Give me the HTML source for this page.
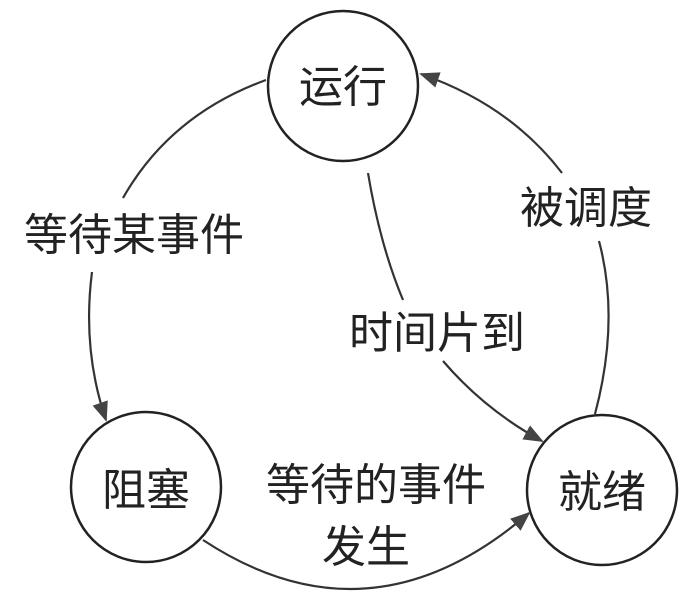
<!DOCTYPE html>
<html><head><meta charset="utf-8"><style>
html,body{margin:0;padding:0;background:#fff;}
svg{display:block;}
text{font-family:"Liberation Sans","Noto Sans CJK SC","WenQuanYi Zen Hei",sans-serif;font-size:44px;fill:#222;}
</style></head><body>
<svg width="687" height="594" viewBox="0 0 687 594" xmlns="http://www.w3.org/2000/svg">
<defs>
<marker id="ah" viewBox="0 0 10 10" refX="9" refY="5" markerWidth="20" markerHeight="20" orient="auto" markerUnits="userSpaceOnUse">
<path d="M0,1 L10,5 L0,9 Z" fill="#444"/>
</marker>
</defs>
<g fill="none" stroke="#222" stroke-width="2.5">
<circle cx="343" cy="86" r="75"/>
<circle cx="146" cy="487" r="75"/>
<circle cx="602" cy="490" r="75"/>
</g>
<g fill="none" stroke="#333" stroke-width="2.2">
<path d="M266,80 Q170,115 123,198"/>
<path d="M92,272 Q82,350 106,420" marker-end="url(#ah)"/>
<path d="M368,173 Q380,245 403,300"/>
<path d="M443,361 Q485,410 542,441" marker-end="url(#ah)"/>
<path d="M595,414 Q620,320 599,241"/>
<path d="M562,173 Q510,105 421,74" marker-end="url(#ah)"/>
<path d="M203,540 Q370,650 529,513" marker-end="url(#ah)"/>
</g>
<g text-anchor="middle">
<text x="343" y="102">运行</text>
<text x="146" y="505">阻塞</text>
<text x="602" y="507">就绪</text>
<text x="134" y="250">等待某事件</text>
<text x="586" y="223">被调度</text>
<text x="437" y="348">时间片到</text>
<text x="376" y="500">等待的事件</text>
<text x="366" y="562">发生</text>
</g>
</svg>
</body></html>
